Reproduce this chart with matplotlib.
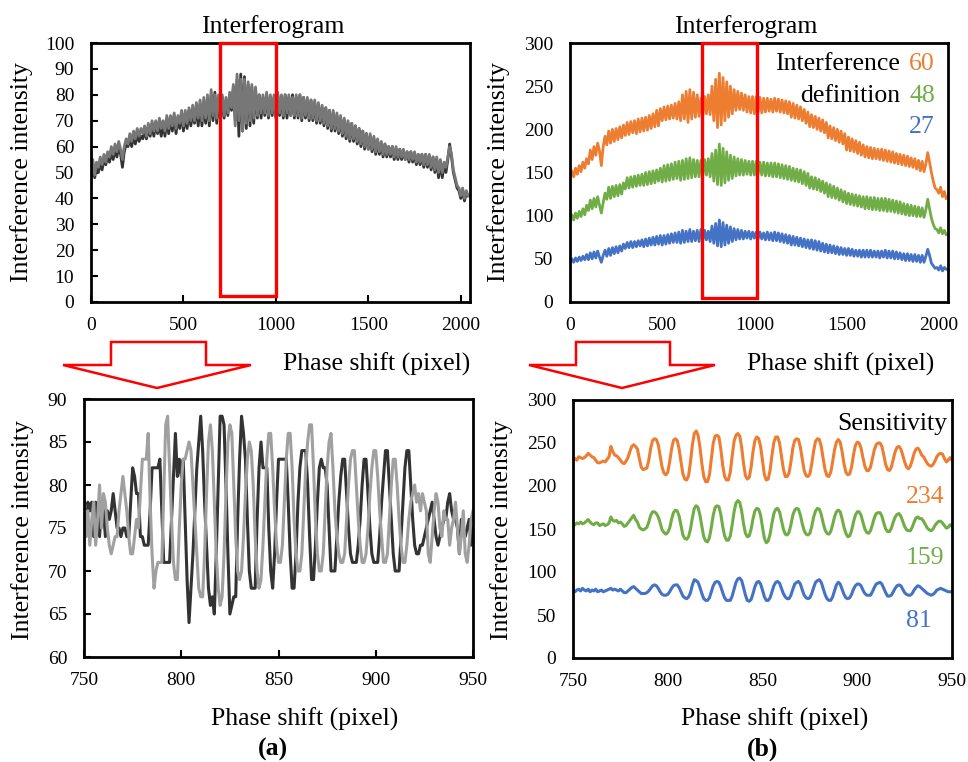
import numpy as np
import matplotlib
matplotlib.use('Agg')
import matplotlib.pyplot as plt
from matplotlib.patches import Rectangle, Polygon

plt.rcParams['font.family'] = ['Liberation Serif', 'DejaVu Serif']

# ---------------- data ----------------
# full interferograms, sampled every 10 pixels (0 ... 2040)
x_full = np.arange(0, 2050, 10)

tl_dark = [
    47, 53, 48, 52, 50, 54, 51, 55, 53, 56,
    54, 58, 55, 59, 56, 60, 57, 52, 58, 61,
    60, 63, 60, 64, 61, 65, 62, 64, 63, 66,
    63, 67, 64, 68, 64, 69, 65, 68, 64, 69,
    64, 70, 65, 71, 66, 72, 65, 71, 67, 73,
    66, 72, 67, 74, 68, 73, 69, 75, 68, 76,
    68, 77, 69, 78, 68, 80, 70, 81, 69, 79,
    70, 79, 71, 78, 72, 80, 74, 83, 70, 86,
    64, 88, 66, 87, 67, 84, 68, 83, 69, 82,
    71, 80, 71, 79, 72, 80, 71, 79, 72, 79,
    71, 80, 72, 79, 71, 80, 71, 79, 72, 80,
    71, 79, 71, 80, 70, 79, 71, 78, 70, 78,
    70, 77, 69, 76, 69, 75, 68, 75, 67, 74,
    66, 73, 66, 72, 65, 71, 64, 70, 63, 69,
    62, 69, 62, 68, 61, 67, 60, 66, 59, 65,
    59, 64, 58, 63, 57, 62, 57, 61, 56, 61,
    56, 60, 56, 60, 55, 59, 55, 59, 55, 58,
    55, 58, 54, 58, 54, 57, 53, 57, 53, 57,
    52, 57, 52, 56, 51, 56, 50, 55, 48, 54,
    48, 53, 50, 55, 61, 56, 50, 47, 44, 43,
    40, 43, 39, 42, 41]

tl_gray = [
    50, 55, 49, 54, 52, 56, 53, 57, 54, 58,
    56, 60, 57, 61, 58, 62, 59, 55, 60, 63,
    61, 65, 62, 66, 63, 67, 64, 67, 65, 68,
    64, 69, 65, 70, 66, 70, 66, 71, 67, 70,
    66, 72, 67, 72, 68, 73, 67, 72, 69, 74,
    68, 74, 69, 75, 70, 76, 70, 77, 71, 78,
    70, 79, 71, 80, 70, 82, 72, 80, 71, 80,
    72, 80, 72, 79, 73, 81, 75, 84, 68, 88,
    70, 86, 66, 86, 69, 85, 70, 84, 71, 83,
    72, 80, 73, 80, 73, 81, 72, 80, 73, 80,
    72, 81, 73, 80, 72, 80, 73, 80, 72, 79,
    72, 80, 72, 80, 71, 79, 72, 79, 71, 78,
    71, 78, 70, 77, 70, 76, 69, 75, 68, 74,
    67, 74, 67, 73, 66, 72, 65, 71, 64, 70,
    63, 69, 63, 68, 62, 67, 61, 66, 60, 65,
    59, 65, 59, 64, 58, 63, 58, 62, 57, 61,
    57, 60, 57, 60, 56, 60, 56, 59, 56, 59,
    55, 58, 55, 58, 55, 58, 54, 57, 54, 57,
    53, 57, 53, 57, 52, 56, 51, 56, 50, 55,
    50, 54, 52, 56, 60, 57, 51, 48, 45, 44,
    41, 44, 40, 43, 41]

tr_orange = [
    142, 152, 145, 155, 148, 158, 151, 162, 155, 166,
    160, 176, 165, 180, 170, 184, 175, 158, 180, 192,
    182, 198, 184, 200, 186, 201, 188, 203, 190, 205,
    193, 208, 194, 209, 196, 210, 195, 212, 197, 213,
    198, 214, 199, 216, 201, 218, 203, 222, 204, 224,
    210, 226, 211, 227, 212, 228, 213, 230, 212, 232,
    210, 240, 212, 244, 208, 246, 212, 243, 214, 240,
    215, 236, 216, 238, 218, 240, 217, 250, 210, 258,
    202, 265, 205, 260, 210, 255, 214, 250, 218, 246,
    222, 244, 223, 242, 222, 240, 220, 238, 219, 238,
    218, 238, 220, 237, 219, 236, 220, 236, 221, 235,
    220, 236, 221, 235, 220, 234, 219, 233, 218, 232,
    214, 230, 213, 228, 212, 226, 210, 223, 207, 220,
    203, 217, 202, 215, 200, 213, 198, 211, 196, 208,
    190, 204, 189, 202, 187, 200, 185, 198, 183, 195,
    176, 191, 175, 189, 174, 187, 172, 185, 170, 182,
    168, 180, 167, 179, 166, 178, 166, 177, 165, 177,
    164, 176, 163, 175, 162, 174, 161, 172, 160, 171,
    159, 170, 158, 169, 157, 167, 156, 166, 154, 164,
    152, 163, 151, 160, 173, 162, 150, 140, 132, 130,
    126, 133, 122, 128, 120]

tr_green = [
    93, 101, 95, 103, 97, 105, 99, 108, 101, 112,
    106, 118, 108, 120, 110, 122, 112, 103, 115, 126,
    119, 133, 120, 134, 122, 135, 123, 136, 125, 138,
    131, 144, 132, 145, 133, 146, 134, 147, 135, 148,
    135, 150, 136, 151, 137, 152, 138, 153, 140, 155,
    139, 158, 140, 159, 141, 160, 142, 162, 143, 163,
    141, 164, 142, 166, 143, 167, 144, 165, 145, 164,
    145, 164, 146, 165, 147, 166, 145, 172, 140, 176,
    136, 183, 135, 178, 138, 174, 141, 170, 143, 168,
    146, 166, 147, 165, 147, 164, 148, 163, 147, 163,
    147, 163, 148, 162, 147, 162, 146, 161, 146, 161,
    145, 161, 145, 160, 144, 159, 143, 158, 142, 157,
    141, 155, 140, 154, 139, 153, 137, 151, 135, 149,
    132, 145, 131, 144, 130, 142, 128, 140, 126, 138,
    122, 136, 121, 134, 120, 132, 118, 130, 116, 128,
    114, 126, 113, 125, 112, 124, 111, 123, 110, 122,
    108, 122, 108, 121, 107, 121, 107, 120, 106, 120,
    106, 120, 105, 119, 105, 118, 104, 117, 103, 116,
    102, 114, 101, 113, 100, 112, 100, 111, 99, 110,
    99, 109, 98, 107, 119, 108, 97, 90, 85, 84,
    80, 86, 79, 83, 78]

tr_blue = [
    45, 50, 46, 51, 47, 52, 48, 53, 49, 55,
    49, 57, 50, 58, 51, 59, 52, 46, 54, 60,
    53, 62, 54, 63, 56, 64, 57, 65, 59, 67,
    62, 69, 63, 70, 63, 70, 64, 71, 65, 72,
    64, 73, 65, 74, 66, 75, 66, 76, 67, 77,
    66, 77, 67, 78, 68, 79, 69, 80, 69, 81,
    68, 83, 69, 82, 70, 84, 70, 82, 71, 83,
    70, 84, 71, 83, 72, 82, 70, 88, 68, 91,
    65, 95, 64, 92, 66, 89, 68, 87, 70, 85,
    72, 84, 73, 83, 73, 82, 74, 82, 73, 81,
    74, 81, 73, 81, 73, 80, 72, 81, 72, 80,
    71, 81, 71, 80, 70, 79, 69, 78, 68, 77,
    66, 76, 66, 75, 65, 74, 64, 73, 63, 72,
    62, 72, 61, 71, 60, 70, 59, 68, 58, 67,
    57, 66, 57, 65, 56, 64, 55, 63, 55, 62,
    54, 62, 54, 61, 53, 60, 53, 60, 52, 60,
    52, 60, 52, 60, 52, 59, 52, 59, 51, 59,
    52, 60, 51, 59, 51, 59, 50, 58, 50, 57,
    49, 56, 48, 56, 48, 55, 47, 55, 47, 54,
    46, 54, 46, 53, 61, 54, 45, 42, 39, 40,
    37, 42, 36, 40, 38]

# zoomed window 750 ... 950, one value per pixel
x_zoom = np.arange(750, 951)

bl_dark = [
    77, 74, 78, 77, 78, 74, 78, 76, 74, 78,
    77, 74, 77, 76, 77, 79, 77, 75, 75, 74,
    75, 75, 74, 74, 78, 82, 81, 79, 79, 74,
    74, 73, 73, 73, 77, 82, 82, 82, 82, 83,
    77, 71, 71, 71, 71, 76, 81, 86, 81, 83,
    81, 83, 76, 69, 64, 68, 72, 77, 82, 85,
    88, 84, 78, 73, 68, 66, 67, 65, 72, 80,
    88, 88, 87, 80, 72, 65, 66, 67, 67, 76,
    83, 88, 86, 83, 76, 70, 68, 68, 68, 76,
    82, 85, 82, 82, 82, 75, 70, 68, 72, 78,
    83, 83, 83, 83, 83, 78, 72, 68, 68, 72,
    78, 82, 84, 84, 84, 80, 74, 69, 69, 73,
    78, 82, 83, 82, 82, 80, 75, 70, 70, 70,
    74, 78, 81, 83, 83, 79, 75, 72, 71, 71,
    71, 73, 76, 80, 83, 83, 79, 75, 72, 71,
    71, 71, 74, 78, 81, 84, 84, 80, 76, 72,
    70, 70, 70, 74, 78, 82, 84, 84, 80, 76,
    73, 72, 72, 73, 73, 74, 75, 76, 77, 78,
    76, 74, 73, 74, 75, 76, 76, 78, 79, 77,
    76, 76, 75, 72, 76, 75, 74, 75, 76, 73,
    75]

bl_gray = [
    79, 74, 77, 73, 76, 78, 73, 76, 80, 75,
    79, 78, 75, 73, 72, 73, 74, 74, 77, 79,
    81, 79, 77, 74, 72, 72, 74, 76, 75, 79,
    83, 83, 83, 86, 78, 72, 68, 70, 71, 71,
    71, 79, 87, 88, 82, 76, 71, 69, 69, 75,
    80, 83, 83, 84, 85, 84, 80, 76, 72, 68,
    67, 67, 72, 79, 85, 87, 84, 78, 72, 68,
    66, 67, 72, 79, 85, 87, 86, 80, 74, 70,
    69, 70, 74, 79, 83, 85, 84, 80, 74, 70,
    68, 69, 73, 78, 83, 86, 86, 82, 77, 73,
    71, 71, 73, 78, 83, 86, 86, 82, 76, 72,
    70, 70, 72, 77, 82, 85, 87, 87, 82, 76,
    72, 70, 70, 72, 77, 82, 85, 86, 82, 77,
    74, 72, 71, 71, 72, 76, 80, 83, 84, 84,
    80, 76, 73, 71, 71, 72, 75, 79, 82, 84,
    84, 81, 77, 74, 71, 71, 72, 76, 80, 83,
    83, 80, 76, 73, 71, 71, 73, 76, 78, 79,
    80, 78, 79, 77, 79, 78, 77, 72, 71, 74,
    77, 79, 78, 75, 74, 77, 76, 76, 73, 75,
    76, 78, 75, 72, 74, 77, 72, 71, 73, 76,
    77]

br_orange = [
    231, 232, 230, 234, 233, 232, 233, 235, 238, 236,
    234, 233, 230, 227, 227, 228, 229, 228, 231, 234,
    246, 240, 236, 235, 233, 230, 227, 226, 229, 233,
    240, 246, 248, 246, 243, 232, 222, 219, 220, 221,
    230, 244, 253, 255, 254, 248, 235, 222, 215, 213,
    216, 228, 243, 253, 255, 253, 243, 228, 214, 208,
    207, 212, 228, 248, 261, 264, 259, 245, 226, 211,
    205, 205, 213, 232, 250, 258, 259, 257, 243, 224,
    211, 207, 207, 216, 235, 252, 259, 261, 258, 245,
    226, 212, 208, 210, 222, 240, 253, 257, 255, 246,
    229, 213, 207, 208, 218, 236, 251, 257, 257, 250,
    235, 220, 211, 211, 215, 228, 244, 253, 255, 254,
    245, 231, 218, 212, 211, 214, 226, 241, 252, 255,
    254, 246, 232, 219, 212, 211, 216, 228, 242, 251,
    254, 251, 240, 226, 216, 213, 214, 222, 236, 247,
    251, 250, 244, 233, 223, 218, 218, 222, 232, 242,
    248, 250, 250, 246, 236, 225, 219, 218, 222, 231,
    240, 245, 246, 243, 236, 228, 222, 220, 223, 230,
    238, 243, 244, 241, 236, 234, 230, 226, 224, 223,
    225, 229, 234, 237, 238, 237, 232, 228, 230, 233,
    230]

br_green = [
    153, 155, 157, 156, 158, 156, 157, 159, 161, 158,
    156, 155, 157, 157, 154, 155, 156, 154, 155, 157,
    164, 160, 159, 160, 157, 158, 156, 153, 154, 157,
    160, 163, 166, 161, 158, 152, 150, 149, 150, 152,
    158, 166, 170, 170, 168, 164, 157, 149, 146, 144,
    146, 151, 161, 169, 172, 171, 165, 154, 143, 139,
    138, 141, 150, 163, 174, 177, 175, 166, 153, 141,
    136, 135, 140, 152, 166, 175, 177, 176, 167, 153,
    142, 137, 137, 142, 155, 170, 180, 183, 181, 171,
    156, 145, 141, 142, 150, 162, 171, 174, 173, 166,
    152, 139, 134, 136, 144, 157, 168, 173, 174, 170,
    160, 150, 144, 143, 146, 155, 166, 172, 174, 173,
    166, 156, 148, 144, 143, 145, 153, 164, 171, 174,
    173, 167, 157, 149, 145, 144, 147, 155, 164, 170,
    172, 170, 162, 152, 145, 141, 142, 148, 158, 166,
    170, 170, 166, 158, 150, 146, 145, 148, 155, 163,
    168, 169, 169, 165, 157, 150, 147, 147, 151, 158,
    164, 167, 168, 165, 159, 153, 149, 148, 148, 152,
    158, 163, 164, 162, 162, 159, 155, 151, 149, 148,
    150, 154, 157, 159, 159, 157, 154, 151, 152, 155,
    153]

br_blue = [
    78, 77, 79, 80, 78, 81, 79, 78, 80, 77,
    79, 78, 80, 77, 78, 79, 77, 78, 79, 80,
    81, 79, 80, 79, 78, 80, 78, 76, 76, 78,
    80, 82, 83, 81, 79, 77, 75, 75, 75, 76,
    78, 81, 84, 85, 84, 81, 77, 74, 73, 73,
    74, 77, 81, 84, 85, 85, 82, 77, 72, 70,
    69, 71, 76, 85, 91, 90, 88, 82, 75, 69,
    67, 67, 70, 77, 84, 88, 89, 88, 83, 76,
    70, 67, 67, 67, 72, 80, 88, 92, 93, 90,
    82, 73, 67, 66, 68, 75, 83, 88, 89, 86,
    79, 71, 67, 67, 70, 77, 84, 88, 89, 87,
    81, 75, 71, 69, 69, 73, 80, 86, 88, 89,
    86, 79, 73, 70, 69, 70, 75, 82, 88, 90,
    91, 88, 81, 74, 69, 67, 67, 71, 78, 85,
    88, 86, 80, 74, 70, 69, 70, 74, 80, 84,
    86, 86, 84, 79, 75, 73, 73, 73, 77, 82,
    86, 87, 88, 86, 81, 76, 72, 72, 73, 77,
    81, 84, 85, 84, 80, 76, 74, 73, 73, 75,
    79, 82, 84, 83, 81, 79, 77, 75, 74, 73,
    74, 76, 79, 80, 81, 80, 79, 78, 77, 77,
    77]

definition = ['60', '48', '27']
sensitivity = ['234', '159', '81']

ORANGE, GREEN, BLUE = '#ED7D31', '#70AD47', '#4472C4'
DARK, LIGHT = '#333333', '#A0A0A0'

# ---------------- figure ----------------
W, H = 968.0, 762.0
fig = plt.figure(figsize=(W / 100, H / 100), dpi=100)


def box(l, t, r, b):
    return [l / W, 1 - b / H, (r - l) / W, (b - t) / H]


def ftxt(x, y, s, **kw):
    kw.setdefault('fontsize', 18.5)
    kw.setdefault('va', 'baseline')
    fig.text(x / W, 1 - y / H, s, **kw)


def style(ax, ticks_in):
    for sp in ax.spines.values():
        sp.set_linewidth(2.0)
    ax.tick_params(direction='in', length=5 if ticks_in else 0, width=1.5,
                   labelsize=14, top=False, right=False)
    ax.tick_params(axis='x', pad=11)
    ax.tick_params(axis='y', pad=12)


ax1 = fig.add_axes(box(91, 43, 470, 302))
ax2 = fig.add_axes(box(570, 43, 948, 302))
ax3 = fig.add_axes(box(84, 399, 473, 657))
ax4 = fig.add_axes(box(573, 400, 952, 658))

# top left
ax1.plot(x_full, tl_dark, color=DARK, lw=2.0)
ax1.plot(x_full, tl_gray, color='#777777', lw=2.0)
ax1.set_xlim(0, 2050)
ax1.set_ylim(0, 100)
ax1.set_xticks([0, 500, 1000, 1500, 2000])
ax1.set_yticks(np.arange(0, 101, 10))
ax1.add_patch(Rectangle((700, 2.5), 300, 97.5, fill=False, ec='#FF0000',
                        lw=2.4, clip_on=False, zorder=5))
style(ax1, True)

# top right
ax2.plot(x_full, tr_orange, color=ORANGE, lw=2.0)
ax2.plot(x_full, tr_green, color=GREEN, lw=2.0)
ax2.plot(x_full, tr_blue, color=BLUE, lw=2.0)
ax2.set_xlim(0, 2050)
ax2.set_ylim(0, 300)
ax2.set_xticks([0, 500, 1000, 1500, 2000])
ax2.set_yticks(np.arange(0, 301, 50))
ax2.add_patch(Rectangle((718, 5), 297, 295, fill=False, ec='#FF0000',
                        lw=2.4, clip_on=False, zorder=5))
style(ax2, False)

# bottom left
ax3.plot(x_zoom, bl_dark, color=DARK, lw=2.2)
ax3.plot(x_zoom, bl_gray, color=LIGHT, lw=2.2)
ax3.set_xlim(750, 950)
ax3.set_ylim(60, 90)
ax3.set_xticks(np.arange(750, 951, 50))
ax3.set_yticks(np.arange(60, 91, 5))
style(ax3, True)

# bottom right
ax4.plot(x_zoom, br_orange, color=ORANGE, lw=2.2)
ax4.plot(x_zoom, br_green, color=GREEN, lw=2.2)
ax4.plot(x_zoom, br_blue, color=BLUE, lw=2.2)
ax4.set_xlim(750, 950)
ax4.set_ylim(0, 300)
ax4.set_xticks(np.arange(750, 951, 50))
ax4.set_yticks(np.arange(0, 301, 50))
style(ax4, False)

# titles and axis labels
ftxt(273, 33, 'Interferogram', ha='center')
ftxt(746, 33, 'Interferogram', ha='center')
ftxt(22, 172, 'Interference intensity', ha='center', va='center', rotation=90)
ftxt(499, 172, 'Interference intensity', ha='center', va='center', rotation=90)
ftxt(23, 530, 'Interference intensity', ha='center', va='center', rotation=90)
ftxt(502, 530, 'Interference intensity', ha='center', va='center', rotation=90)
ftxt(377, 371, 'Phase shift (pixel)', ha='center')
ftxt(841, 371, 'Phase shift (pixel)', ha='center')
ftxt(305, 726, 'Phase shift (pixel)', ha='center')
ftxt(775, 726, 'Phase shift (pixel)', ha='center')
ftxt(273, 756, '(a)', ha='center', fontweight='bold')
ftxt(763, 756, '(b)', ha='center', fontweight='bold')

# annotations
ftxt(900, 70, 'Interference', ha='right')
ftxt(900, 102, 'definition', ha='right')
for yb, s, c in zip((70, 102, 133), definition, (ORANGE, GREEN, BLUE)):
    ftxt(909, yb, s, ha='left', color=c)
ftxt(947, 430, 'Sensitivity', ha='right')
for yb, s, c in zip((503, 564, 627), sensitivity, (ORANGE, GREEN, BLUE)):
    ftxt(906, yb, s, ha='left', color=c)

# big hollow arrows between the rows
for l, r, hl, hr, tip in ((111, 206, 63, 251, 157), (576, 670, 529, 715, 622)):
    pts = [(l, 342), (r, 342), (r, 365), (hr, 365), (tip, 388), (hl, 365), (l, 365)]
    fig.patches.append(Polygon([(px / W, 1 - py / H) for px, py in pts], closed=True,
                               fill=False, ec='#FF0000', lw=1.8,
                               transform=fig.transFigure))

fig.savefig('out.png', dpi=100)
